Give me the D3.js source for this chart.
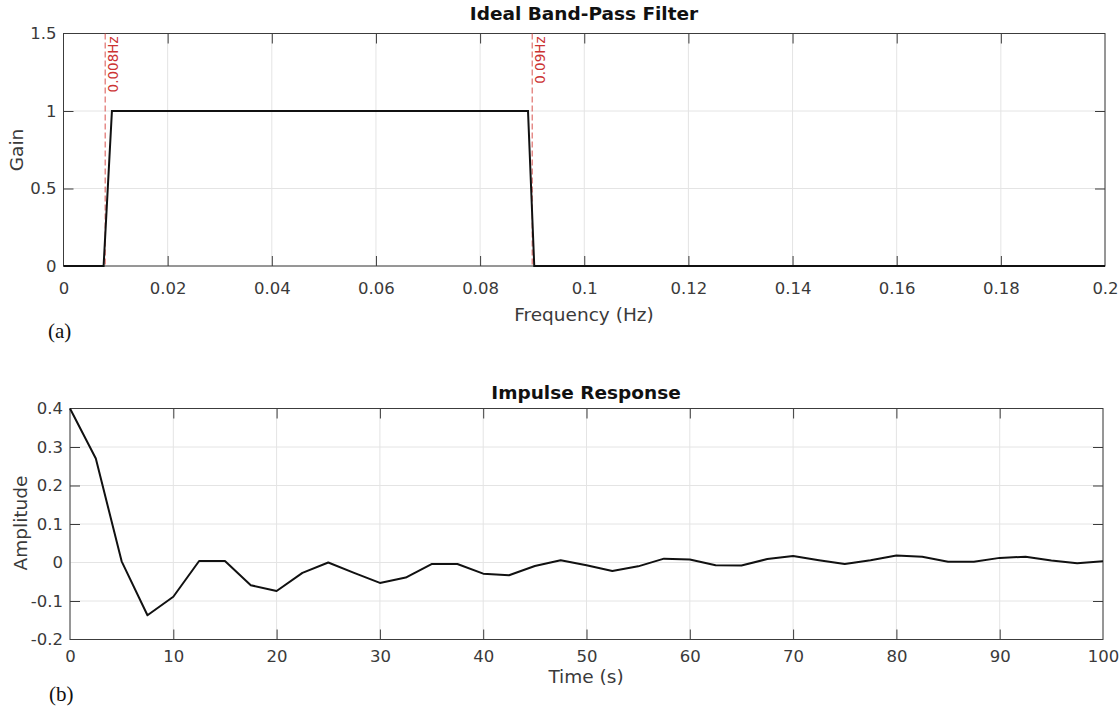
<!DOCTYPE html>
<html>
<head>
<meta charset="utf-8">
<script src="https://cdn.jsdelivr.net/npm/d3@7"></script>
<style>
  html, body { margin: 0; padding: 0; background: #fff; }
  svg { display: block; font-family: "DejaVu Sans", sans-serif; }
</style>
</head>
<body>
<svg id="chart" width="1120" height="709"></svg>
<script>
// Ideal band-pass gain curve (frequency in Hz, gain)
const filterFreq = [0, 0.0077, 0.0093, 0.0892, 0.0904, 0.2];
const filterGain = [0, 0, 1, 1, 0, 0];
// Cut-off markers
const cutoffFreq = [0.008, 0.09];
const cutoffLabels = ["0.008Hz", "0.09Hz"];
const freqTicks = [0, 0.02, 0.04, 0.06, 0.08, 0.1, 0.12, 0.14, 0.16, 0.18, 0.2];
const gainTicks = [0, 0.5, 1, 1.5];

// Impulse response sampled every 2.5 s
const timeSec = [0, 2.5, 5, 7.5, 10, 12.5, 15, 17.5, 20, 22.5, 25, 27.5, 30, 32.5, 35, 37.5, 40,
  42.5, 45, 47.5, 50, 52.5, 55, 57.5, 60, 62.5, 65, 67.5, 70, 72.5, 75, 77.5, 80, 82.5, 85,
  87.5, 90, 92.5, 95, 97.5, 100];
const amplitude = [0.4, 0.27, 0.003, -0.137, -0.089, 0.004, 0.004, -0.059, -0.074, -0.027,
  0.0, -0.027, -0.053, -0.039, -0.004, -0.004, -0.029, -0.033, -0.009, 0.006, -0.007,
  -0.022, -0.010, 0.010, 0.008, -0.007, -0.008, 0.009, 0.017, 0.006, -0.004, 0.006, 0.018,
  0.015, 0.002, 0.002, 0.012, 0.015, 0.005, -0.002, 0.003];
const timeTicks = [0, 10, 20, 30, 40, 50, 60, 70, 80, 90, 100];
const ampTicks = [-0.2, -0.1, 0, 0.1, 0.2, 0.3, 0.4];

const svg = d3.select("#chart");
const axisColor = "#3c3c3c";
const gridColor = "#e4e4e4";
const textColor = "#3a3a3a";
const tickFont = 16.5;
const labelFont = 18.5;
const titleFont = 18.5;

function fmt(v) { return String(+v.toFixed(4)); }

function drawPanel(cfg) {
  const { left, right, top, bottom, xDomain, yDomain, xTicks, yTicks, xPad, yPad } = cfg;
  const x = d3.scaleLinear().domain(xDomain).range([left, right]);
  const y = d3.scaleLinear().domain(yDomain).range([bottom, top]);
  const g = svg.append("g");

  // grid
  g.append("g").selectAll("line").data(xTicks).join("line")
    .attr("x1", d => x(d)).attr("x2", d => x(d)).attr("y1", top).attr("y2", bottom)
    .attr("stroke", gridColor).attr("stroke-width", 1);
  g.append("g").selectAll("line").data(yTicks).join("line")
    .attr("x1", left).attr("x2", right).attr("y1", d => y(d)).attr("y2", d => y(d))
    .attr("stroke", gridColor).attr("stroke-width", 1);

  const styleAxis = (sel, showText) => {
    sel.select(".domain").remove();
    sel.selectAll(".tick line").attr("stroke", axisColor).attr("stroke-width", 1);
    sel.selectAll(".tick text").attr("fill", textColor).attr("font-size", tickFont)
      .attr("font-family", "DejaVu Sans, sans-serif");
    if (!showText) sel.selectAll(".tick text").remove();
  };

  g.append("g").attr("transform", `translate(0,${bottom})`)
    .call(d3.axisBottom(x).tickValues(xTicks).tickFormat(fmt).tickSizeInner(-10).tickSizeOuter(0).tickPadding(xPad))
    .call(s => styleAxis(s, true));
  g.append("g").attr("transform", `translate(0,${top})`)
    .call(d3.axisTop(x).tickValues(xTicks).tickSizeInner(-10).tickSizeOuter(0))
    .call(s => styleAxis(s, false));
  g.append("g").attr("transform", `translate(${left},0)`)
    .call(d3.axisLeft(y).tickValues(yTicks).tickFormat(fmt).tickSizeInner(-10).tickSizeOuter(0).tickPadding(yPad))
    .call(s => styleAxis(s, true));
  g.append("g").attr("transform", `translate(${right},0)`)
    .call(d3.axisRight(y).tickValues(yTicks).tickSizeInner(-10).tickSizeOuter(0))
    .call(s => styleAxis(s, false));

  // hide ticks sitting on the box corners
  g.selectAll(".tick line").filter(function (d) {
    return d === xDomain[0] || d === xDomain[1] || d === yDomain[0] || d === yDomain[1];
  }).remove();

  // box
  g.append("rect").attr("x", left).attr("y", top)
    .attr("width", right - left).attr("height", bottom - top)
    .attr("fill", "none").attr("stroke", axisColor).attr("stroke-width", 1);

  return { g, x, y };
}

// ---- Panel (a): Ideal Band-Pass Filter ----
const pa = drawPanel({
  left: 63.5, right: 1105, top: 33.5, bottom: 266,
  xDomain: [0, 0.2], yDomain: [0, 1.5],
  xTicks: freqTicks, yTicks: gainTicks, xPad: 16, yPad: 7
});

pa.g.selectAll("line.cut").data(cutoffFreq).join("line")
  .attr("x1", d => pa.x(d)).attr("x2", d => pa.x(d))
  .attr("y1", pa.y(1.5)).attr("y2", pa.y(0))
  .attr("stroke", "#d9534f").attr("stroke-width", 1).attr("stroke-dasharray", "6,3");

pa.g.selectAll("text.cut").data(cutoffFreq).join("text")
  .attr("transform", d => `translate(${pa.x(d) + 13},${pa.y(1.5) + 3}) rotate(-90)`)
  .attr("text-anchor", "end")
  .attr("font-size", 13.5).attr("fill", "#cc3333")
  .text((d, i) => cutoffLabels[i]);

const filterPts = filterFreq.map((f, i) => [f, filterGain[i]]);
pa.g.append("path").datum(filterPts)
  .attr("fill", "none").attr("stroke", "#111").attr("stroke-width", 2)
  .attr("d", d3.line().x(d => pa.x(d[0])).y(d => pa.y(d[1])));

svg.append("text").attr("x", 584).attr("y", 20).attr("text-anchor", "middle")
  .attr("font-size", titleFont).attr("font-weight", "bold").attr("fill", "#111")
  .text("Ideal Band-Pass Filter");
svg.append("text").attr("transform", "translate(23,150) rotate(-90)").attr("text-anchor", "middle")
  .attr("font-size", labelFont).attr("fill", textColor).text("Gain");
svg.append("text").attr("x", 584).attr("y", 321).attr("text-anchor", "middle")
  .attr("font-size", labelFont).attr("fill", textColor).text("Frequency (Hz)");
svg.append("text").attr("x", 48).attr("y", 338)
  .attr("font-family", "Liberation Serif, Times New Roman, serif")
  .attr("font-size", 21).attr("fill", "#111").text("(a)");

// ---- Panel (b): Impulse Response ----
const pb = drawPanel({
  left: 70, right: 1103, top: 408.5, bottom: 639.5,
  xDomain: [0, 100], yDomain: [-0.2, 0.4],
  xTicks: timeTicks, yTicks: ampTicks, xPad: 11, yPad: 7
});

const impulsePts = timeSec.map((t, i) => [t, amplitude[i]]);
pb.g.append("path").datum(impulsePts)
  .attr("fill", "none").attr("stroke", "#111").attr("stroke-width", 2)
  .attr("stroke-linejoin", "round")
  .attr("d", d3.line().x(d => pb.x(d[0])).y(d => pb.y(d[1])));

svg.append("text").attr("x", 586).attr("y", 399).attr("text-anchor", "middle")
  .attr("font-size", titleFont).attr("font-weight", "bold").attr("fill", "#111")
  .text("Impulse Response");
svg.append("text").attr("transform", "translate(27,523) rotate(-90)").attr("text-anchor", "middle")
  .attr("font-size", labelFont).attr("fill", textColor).text("Amplitude");
svg.append("text").attr("x", 586).attr("y", 683).attr("text-anchor", "middle")
  .attr("font-size", labelFont).attr("fill", textColor).text("Time (s)");
svg.append("text").attr("x", 49).attr("y", 701)
  .attr("font-family", "Liberation Serif, Times New Roman, serif")
  .attr("font-size", 21).attr("fill", "#111").text("(b)");
</script>
</body>
</html>
